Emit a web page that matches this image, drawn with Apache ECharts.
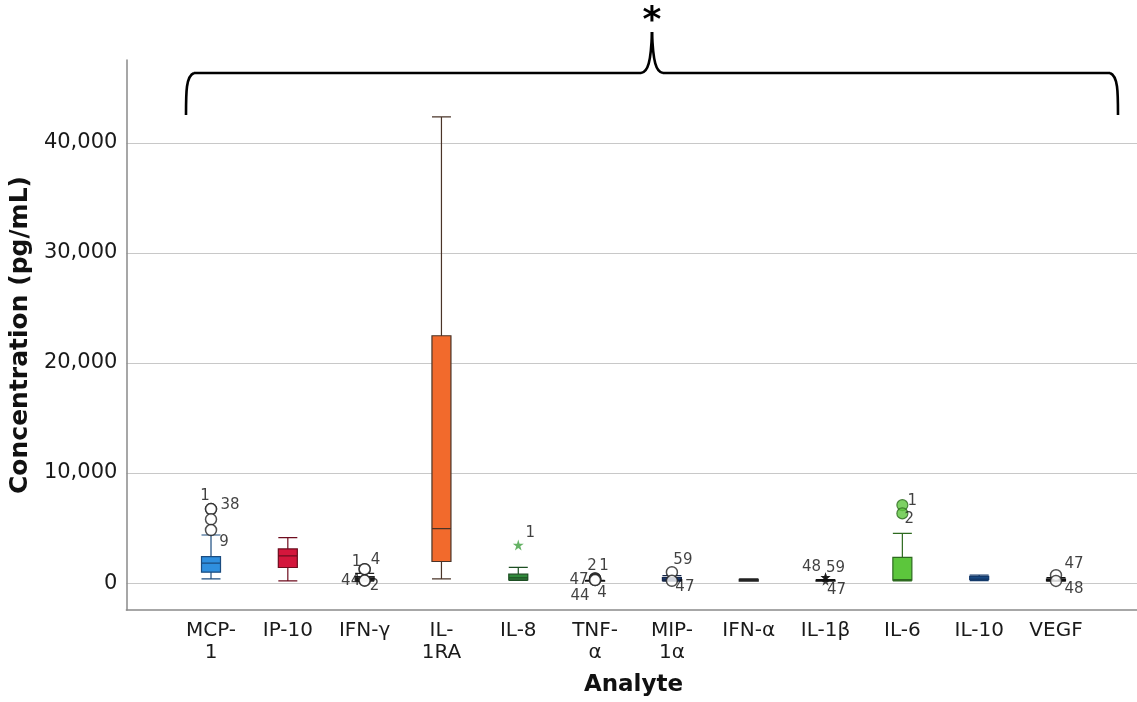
<!DOCTYPE html>
<html>
<head>
<meta charset="utf-8">
<script src="https://cdn.jsdelivr.net/npm/echarts@6/dist/echarts.min.js"></script>
<style>
  html, body { margin: 0; padding: 0; background: #fff; }
  #chart { width: 1137px; height: 702px; }
</style>
</head>
<body>
<div id="chart"></div>
<script>
// Analytes along the x axis and their wrapped tick labels
const categories = ['MCP-1', 'IP-10', 'IFN-γ', 'IL-1RA', 'IL-8', 'TNF-α', 'MIP-1α', 'IFN-α', 'IL-1β', 'IL-6', 'IL-10', 'VEGF'];
const tickLabels = ['MCP-\n1', 'IP-10', 'IFN-γ', 'IL-\n1RA', 'IL-8', 'TNF-\nα', 'MIP-\n1α', 'IFN-α', 'IL-1β', 'IL-6', 'IL-10', 'VEGF'];
const yTicks = [0, 10000, 20000, 30000, 40000];

// Five-number summaries (pg/mL)
const whiskerLow  = [209,  27,   0,   210,   60,  0,  0,   0,   0,   20,   40,  0];
const quartile1   = [818,  1245, 100, 1790,  120, 10, 40,  10,  10,  90,   150, 30];
const medians     = [1636, 2300, 230, 4800,  300, 30, 120, 40,  40,  150,  270, 90];
const quartile3   = [2245, 2936, 420, 22390, 640, 60, 330, 160, 90,  2160, 430, 190];
const whiskerHigh = [4209, 3973, 700, 42360, 1250, 80, 500, 200, 150, 4360, 560, 320];

// Outlying cases: analyte index, value, case number
const outlierCategory = [0, 0, 0, 0, 2, 2, 2, 2, 4, 5, 5, 5, 5, 5, 6, 6, 8, 8, 8, 9, 9, 11, 11];
const outlierValue    = [6573, 6573, 5636, 4664, 1090, 1090, 50, 50, 3300, 250, 250, 180, 100, 100, 820, 30, 360, 360, 30, 6936, 6182, 545, 20];
const outlierCase     = ['1', '38', '', '9', '1', '4', '44', '2', '1', '2', '1', '47', '44', '4', '59', '47', '48', '59', '47', '1', '2', '47', '48'];

// Styling
const boxFill = ['#2f8fdf', '#d4163c', '#444444', '#f26a2c', '#2f8a3a', '#222222', '#1f3f7a', '#333333', '#222222', '#5cc63c', '#1f5a9a', '#222222'];
const boxEdge = ['#1b4c80', '#6e0c1e', '#222222', '#4a3428', '#1c4e22', '#111111', '#15274a', '#222222', '#111111', '#2d6a1f', '#13396a', '#111111'];
const labelOffset = [[-6, -13], [19, -4], [0, 0], [13, 12], [-8, -7], [11, -9], [-14, 1], [10, 6], [12, -12],
  [-3, -12], [9, -12], [-16, 1], [-15, 16], [7, 13], [11, -12], [13, 6], [-14, -10], [10, -9], [11, 9],
  [10, -4], [7, 6], [18, -11], [18, 8]];
const starPath = 'path://M50,0 L61,35 L98,35 L68,57 L79,91 L50,70 L21,91 L32,57 L2,35 L39,35 Z';

const Y_MIN = -2450, Y_MAX = 47545;
const FONT = '"DejaVu Sans", Verdana, sans-serif';

const boxData = categories.map((c, i) => ({
  value: [whiskerLow[i], quartile1[i], medians[i], quartile3[i], whiskerHigh[i]],
  itemStyle: { color: boxFill[i], borderColor: boxEdge[i], borderWidth: 1.2 }
}));

const outlierData = outlierValue.map((v, k) => {
  const cat = outlierCategory[k];
  let symbol = 'circle', size = 11, style = { color: '#ffffff', borderColor: '#222', borderWidth: 1.5 };
  if (cat === 4) { symbol = starPath; size = 11; style = { color: '#3f9f3f', borderWidth: 0 }; }
  if (cat === 8) { symbol = starPath; size = 10; style = { color: '#111', borderWidth: 0 }; }
  if (cat === 9) { style = { color: '#5cc63c', borderColor: '#2d6a1f', borderWidth: 1.2 }; }
  return {
    value: [cat, v],
    symbol: symbol,
    symbolSize: size,
    itemStyle: style,
    label: {
      show: outlierCase[k] !== '',
      formatter: outlierCase[k],
      position: 'inside',
      offset: labelOffset[k],
      color: '#111',
      fontSize: 15,
      fontFamily: FONT
    }
  };
});

// Significance bracket spanning all analytes
const bracketStroke = { fill: null, stroke: '#000', lineWidth: 2.6 };
const bracketParts = [
  { type: 'bezierCurve', shape: { x1: 186, y1: 115, cpx1: 186, cpy1: 92, cpx2: 186, cpy2: 76, x2: 194, y2: 73 } },
  { type: 'line', shape: { x1: 194, y1: 73, x2: 641, y2: 73 } },
  { type: 'bezierCurve', shape: { x1: 641, y1: 73, cpx1: 648, cpy1: 72, cpx2: 651, cpy2: 62, x2: 652, y2: 32 } },
  { type: 'bezierCurve', shape: { x1: 652, y1: 32, cpx1: 653, cpy1: 62, cpx2: 656, cpy2: 72, x2: 663, y2: 73 } },
  { type: 'line', shape: { x1: 663, y1: 73, x2: 1110, y2: 73 } },
  { type: 'bezierCurve', shape: { x1: 1110, y1: 73, cpx1: 1118, cpy1: 76, cpx2: 1118, cpy2: 92, x2: 1118, y2: 115 } }
].map(p => Object.assign(p, { style: bracketStroke, z: 10 }));

const chart = echarts.init(document.getElementById('chart'), null, { renderer: 'canvas' });

chart.setOption({
  animation: false,
  backgroundColor: '#ffffff',
  grid: [
    { left: 126, right: 0, top: 60, bottom: 92 },
    { left: 172.6, right: 42.6, top: 60, bottom: 92 }
  ],
  xAxis: [
    {
      type: 'value', gridIndex: 0, min: 0, max: 1,
      axisLine: { show: true, onZero: false, lineStyle: { color: '#8a8a8a', width: 1.5 } },
      axisTick: { show: false }, axisLabel: { show: false }, splitLine: { show: false }
    },
    {
      type: 'category', gridIndex: 1, data: categories,
      axisLine: { show: false }, axisTick: { show: false }, splitLine: { show: false },
      axisLabel: {
        formatter: (v, i) => tickLabels[i],
        interval: 0, margin: 12, color: '#1a1a1a', fontSize: 20, lineHeight: 22, fontFamily: FONT
      },
      name: 'Analyte', nameLocation: 'middle', nameGap: 66,
      nameTextStyle: { color: '#111', fontSize: 23, fontWeight: 'bold', fontFamily: FONT }
    }
  ],
  yAxis: [
    {
      type: 'value', gridIndex: 0, min: Y_MIN, max: Y_MAX, splitNumber: 5,
      axisLine: { show: true, onZero: false, lineStyle: { color: '#8a8a8a', width: 1.5 } },
      axisTick: { show: false },
      axisLabel: {
        showMinLabel: false, showMaxLabel: false, margin: 9,
        color: '#1a1a1a', fontSize: 21, fontFamily: FONT,
        formatter: v => yTicks.includes(v) ? v.toLocaleString('en-US') : ''
      },
      splitLine: { show: true, showMinLine: false, showMaxLine: false, lineStyle: { color: '#c8c8c8', width: 1.2 } },
      name: 'Concentration (pg/mL)', nameLocation: 'middle', nameGap: 86,
      nameTextStyle: { color: '#111', fontSize: 25, fontWeight: 'bold', fontFamily: FONT }
    },
    {
      type: 'value', gridIndex: 1, min: Y_MIN, max: Y_MAX, show: false, splitLine: { show: false }
    }
  ],
  series: [
    {
      type: 'boxplot', xAxisIndex: 1, yAxisIndex: 1,
      boxWidth: [19, 19],
      data: boxData,
      z: 3
    },
    {
      type: 'scatter', xAxisIndex: 1, yAxisIndex: 1,
      data: outlierData,
      z: 4
    }
  ],
  graphic: bracketParts.concat([
    {
      type: 'text',
      x: 652, y: 22,
      style: { text: '*', fontSize: 36, fontWeight: 'bold', fontFamily: FONT, fill: '#000', align: 'center', verticalAlign: 'middle' },
      z: 10
    }
  ])
});
</script>
</body>
</html>
